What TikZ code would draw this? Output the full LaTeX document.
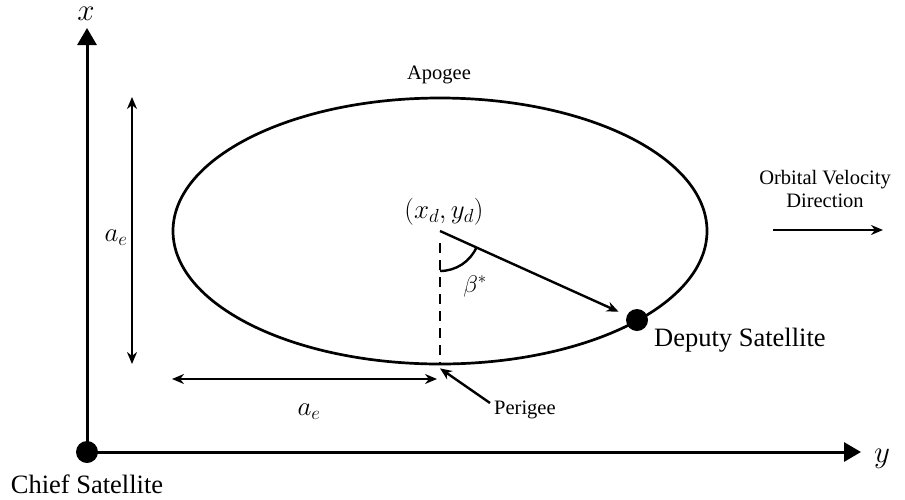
\documentclass[tikz,border=0pt]{standalone}
\usepackage{fix-cm}
\usepackage{fontspec}
\setmainfont{Liberation Serif}
\usetikzlibrary{arrows.meta,shapes.geometric}
\tikzset{
  bigtxt/.style={font=\fontsize{26.5}{30}\selectfont, inner sep=0pt},
  smalltxt/.style={font=\fontsize{20.5}{23}\selectfont, inner sep=0pt},
  mathtxt/.style={font=\fontsize{27}{30}\selectfont, inner sep=0pt},
  axistxt/.style={font=\fontsize{31}{33}\selectfont, inner sep=0pt},
  axisline/.style={line width=3pt, -{Triangle[length=17pt,width=19pt]}},
  conn/.style={line width=2.4pt},
  tip/.style={-{Stealth[length=12pt,width=10pt]}},
  dbltip/.style={{Stealth[length=12pt,width=10pt]}-{Stealth[length=12pt,width=10pt]}},
  satdot/.style={circle, fill=black, inner sep=0pt, minimum size=22pt},
}
\begin{document}
\begin{tikzpicture}[x=1pt,y=-1pt]
\useasboundingbox (0,0) rectangle (905,499);
% axes
\node[satdot] (chief) at (87,452) {};
\coordinate (xend) at (87,28);
\coordinate (yend) at (861,452);
\draw[axisline] (chief.center) -- (xend);
\draw[axisline] (chief.center) -- (yend);
\node[axistxt] (xlbl) at (86,14) {$x$};
\node[axistxt] (ylbl) at (882,459) {$y$};
\node[bigtxt] (chieflbl) at (87,484) {Chief Satellite};
% orbit
\node[ellipse, draw, line width=2.7pt, minimum width=534pt, minimum height=266pt, inner sep=0pt] (orbit) at (440,231) {};
\coordinate (ctr) at (440,231);
\node[smalltxt] (apogee) at (439,75) {Apogee};
\node[mathtxt] (ctrlbl) at (444,212) {$(x_d, y_d)$};
% deputy
\node[satdot] (deputy) at (637,320) {};
\node[bigtxt, anchor=west] (deplbl) at (654,340) {Deputy Satellite};
\draw[conn, tip, shorten >=9pt] (ctr) -- (deputy);
% dashed line and angle
\coordinate (dashtop) at (440,243);
\draw[conn, dash pattern=on 10pt off 7pt] (dashtop) -- (orbit.south);
\draw[conn] ([yshift=-40pt]ctr) arc[start angle=-90, end angle=-24, radius=40pt];
\node[font=\fontsize{24}{26}\selectfont, inner sep=0pt] (betalbl) at (475,286) {$\beta^{*}$};
% dimension arrows
\coordinate (v1) at (132,97);
\coordinate (v2) at (132,364);
\draw[conn, dbltip] (v1) -- (v2);
\node[mathtxt] (aev) at (116,238) {$a_e$};
\coordinate (h1) at (172,379);
\coordinate (h2) at (437,379);
\draw[conn, dbltip] (h1) -- (h2);
\node[mathtxt] (aeh) at (309,412) {$a_e$};
% perigee
\node[smalltxt, anchor=west] (perigee) at (494,410) {Perigee};
\draw[conn, tip] ([shift={(-4,-7)}]perigee.west) -- ([yshift=-3pt]orbit.south);
% orbital velocity
\node[smalltxt, align=center] (orbtxt) at (825,189) {Orbital Velocity\\Direction};
\coordinate (ov1) at (773,230);
\coordinate (ov2) at (883,230);
\draw[conn, tip] (ov1) -- (ov2);
\end{tikzpicture}
\end{document}
